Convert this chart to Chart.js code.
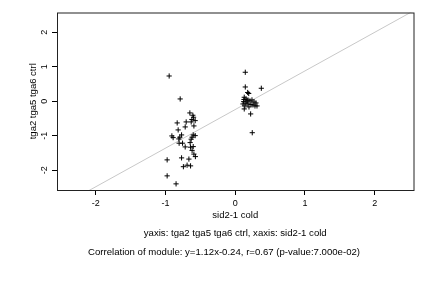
<!DOCTYPE html>
<html>
<head>
<meta charset="utf-8">
<script src="https://cdn.jsdelivr.net/npm/chart.js@4"></script>
<style>
  html, body { margin: 0; padding: 0; background: #fff; }
  canvas { display: block; }
</style>
</head>
<body>
<canvas id="chart" width="432" height="288"></canvas>
<script>
// values
const clusterAX = [-0.948, -0.790, -0.651, -0.608, -0.598, -0.622, -0.575, -0.632, -0.833, -0.704,
    -0.819, -0.718, -0.593, -0.909, -0.891, -0.795, -0.809, -0.770, -0.603, -0.575,
    -0.632, -0.619, -0.805, -0.756, -0.647, -0.718, -0.641, -0.603, -0.619, -0.593,
    -0.572, -0.977, -0.770, -0.665, -0.744, -0.691, -0.641, -0.977, -0.849];
const clusterAY = [0.733, 0.067, -0.339, -0.406, -0.464, -0.528, -0.562, -0.600, -0.629, -0.600,
    -0.832, -0.745, -0.716, -1.006, -1.055, -1.043, -1.093, -0.977, -0.977, -0.997,
    -1.101, -1.043, -1.217, -1.217, -1.200, -1.325, -1.333, -1.316, -1.426, -1.533,
    -1.606, -1.701, -1.643, -1.678, -1.899, -1.855, -1.875, -2.165, -2.397];
const clusterBX = [0.144, 0.144, 0.374, 0.178, 0.193, 0.129, 0.121, 0.129, 0.221, 0.244,
    0.154, 0.182, 0.211, 0.240, 0.269, 0.297, 0.154, 0.182, 0.226, 0.254,
    0.283, 0.139, 0.197, 0.111, 0.168, 0.312, 0.125];
const clusterBY = [0.841, 0.414, 0.377, 0.255, 0.226, 0.116, -0.012, -0.223, -0.368, -0.913,
    0.067, 0.038, 0.009, 0.038, -0.020, -0.049, -0.049, -0.078, -0.093, -0.107,
    -0.136, -0.136, -0.165, -0.078, 0.009, -0.136, 0.052];

// fit from the caption: y = 1.12x - 0.24
const slope = 1.12;
const intercept = -0.24;
const lineX = [-2.6, 2.6];

const xTicks = [-2, -1, 0, 1, 2];
const yTicks = [-2, -1, 0, 1, 2];

const xTitle = 'sid2-1 cold';
const yTitle = 'tga2 tga5 tga6 ctrl';
const caption1 = 'yaxis: tga2 tga5 tga6 ctrl, xaxis: sid2-1 cold';
const caption2 = 'Correlation of module: y=1.12x-0.24, r=0.67 (p-value:7.000e-02)';

const FONT = '"Liberation Sans", Arial, sans-serif';

const points = [];
clusterAX.forEach((x, i) => points.push({ x: x, y: clusterAY[i] }));
clusterBX.forEach((x, i) => points.push({ x: x, y: clusterBY[i] }));

const fitLine = lineX.map(x => ({ x: x, y: slope * x + intercept }));

// box, rotated y labels and the text under the plot
const rStyle = {
    id: 'rStyle',
    afterDraw(chart) {
        const ctx = chart.ctx;
        const a = chart.chartArea;
        const ys = chart.scales.y;
        ctx.save();
        ctx.strokeStyle = '#222';
        ctx.lineWidth = 1;
        ctx.strokeRect(a.left + 0.5, a.top + 0.5, a.right - a.left, a.bottom - a.top);

        ctx.fillStyle = '#000';
        ctx.font = '9px ' + FONT;
        ctx.textAlign = 'center';
        ctx.textBaseline = 'middle';
        yTicks.forEach(v => {
            const py = ys.getPixelForValue(v);
            ctx.save();
            ctx.translate(45, py);
            ctx.rotate(-Math.PI / 2);
            ctx.fillText(String(v), 0, 0);
            ctx.restore();
        });
        ctx.font = '9.5px ' + FONT;
        ctx.save();
        ctx.translate(33, (a.top + a.bottom) / 2);
        ctx.rotate(-Math.PI / 2);
        ctx.fillText(yTitle, 0, 0);
        ctx.restore();

        const cx = (a.left + a.right) / 2;
        ctx.fillText(xTitle, cx, 215);
        ctx.font = '9.6px ' + FONT;
        ctx.fillText(caption1, cx, 233.5);
        ctx.fillText(caption2, 224, 252.5);
        ctx.restore();
    }
};

new Chart(document.getElementById('chart'), {
    type: 'scatter',
    data: {
        datasets: [{
            data: fitLine,
            showLine: true,
            borderColor: 'rgb(200,200,200)',
            borderWidth: 1,
            pointRadius: 0,
            order: 2
        }, {
            data: points,
            pointStyle: 'cross',
            pointRadius: 2.6,
            pointBorderColor: '#000',
            pointBorderWidth: 1,
            order: 1
        }]
    },
    options: {
        responsive: false,
        animation: false,
        devicePixelRatio: 1,
        layout: { padding: { left: 0, top: 12.5, right: 18.5, bottom: 78 } },
        plugins: {
            legend: { display: false },
            tooltip: { enabled: false }
        },
        scales: {
            x: {
                type: 'linear',
                min: -2.557,
                max: 2.557,
                afterBuildTicks: scale => { scale.ticks = xTicks.map(v => ({ value: v })); },
                afterFit: scale => { scale.height = 20; },
                border: { display: false },
                grid: { drawOnChartArea: false, drawTicks: true, tickLength: 5, color: '#000' },
                ticks: {
                    color: '#000',
                    font: { family: FONT, size: 9 },
                    padding: 3,
                    maxRotation: 0
                }
            },
            y: {
                type: 'linear',
                min: -2.575,
                max: 2.575,
                afterBuildTicks: scale => { scale.ticks = yTicks.map(v => ({ value: v })); },
                afterFit: scale => { scale.width = 57; },
                border: { display: false },
                grid: { drawOnChartArea: false, drawTicks: true, tickLength: 5, color: '#000' },
                ticks: { display: false }
            }
        }
    },
    plugins: [rStyle]
});
</script>
</body>
</html>
